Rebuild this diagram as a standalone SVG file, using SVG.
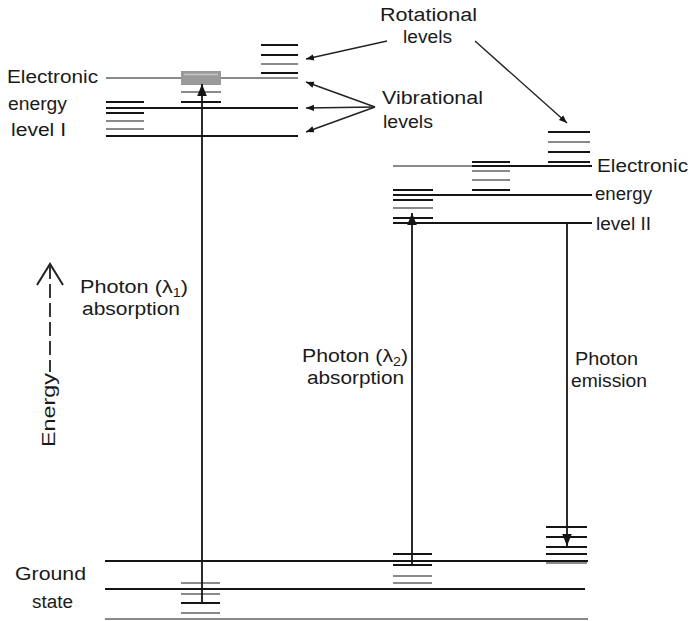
<svg xmlns="http://www.w3.org/2000/svg" width="690" height="621" viewBox="0 0 690 621">
<style>
.lv{stroke:#151515;stroke-width:2;fill:none}
.lg{stroke:#8a8a8a;stroke-width:2;fill:none}
.ar{stroke:#151515;stroke-width:1.8;fill:none}
.pt{stroke:#222;stroke-width:1.4;fill:none}
text{font-family:"Liberation Sans",Arial,sans-serif;font-size:18px;fill:#1a1a1a}
</style>
<defs>
<marker id="ah" viewBox="0 0 10 10" refX="10" refY="5" markerWidth="8" markerHeight="8" markerUnits="userSpaceOnUse" orient="auto">
<path d="M0,1 L10,5 L0,9 Z" fill="#151515"/>
</marker>
<marker id="ahb" viewBox="0 0 10 10" refX="10" refY="5" markerWidth="14" markerHeight="12" markerUnits="userSpaceOnUse" orient="auto">
<path d="M0,1 L10,5 L0,9 Z" fill="#151515"/>
</marker>
</defs>
<rect width="690" height="621" fill="#fff"/>

<g id="level1">
<line class="lg" x1="106" y1="78" x2="298" y2="78" stroke-width="3"/>
<line class="lv" x1="106" y1="108" x2="298" y2="108" stroke-width="2.4"/>
<line class="lv" x1="106" y1="136" x2="298" y2="136" stroke-width="2.4"/>
<line class="lv" x1="106" y1="102" x2="144" y2="102"/>
<line class="lv" x1="106" y1="113" x2="144" y2="113"/>
<line class="lg" x1="106" y1="121" x2="144" y2="121"/>
<line class="lg" x1="106" y1="129" x2="144" y2="129"/>
<rect x="181" y="71" width="40" height="14" fill="#9a9a9a"/>
<line stroke="#c8c8c8" stroke-width="1.5" x1="184" y1="74.5" x2="218" y2="74.5"/>
<line class="lg" x1="181" y1="92" x2="221" y2="92"/>
<line class="lv" x1="181" y1="102" x2="221" y2="102"/>
<line class="lv" x1="261" y1="45" x2="298" y2="45"/>
<line class="lv" x1="261" y1="55" x2="298" y2="55"/>
<line class="lg" x1="261" y1="64" x2="298" y2="64"/>
<line class="lv" x1="261" y1="73" x2="298" y2="73"/>
</g>

<g id="level2">
<line class="lg" x1="393" y1="166" x2="472" y2="166" stroke-width="1.8"/>
<line class="lv" x1="472" y1="166" x2="592" y2="166"/>
<line class="lv" x1="393" y1="195" x2="592" y2="195"/>
<line class="lv" x1="393" y1="223" x2="592" y2="223" stroke-width="2.2"/>
<line class="lv" x1="393" y1="190" x2="433" y2="190"/>
<line class="lv" x1="393" y1="200" x2="433" y2="200"/>
<line class="lg" x1="393" y1="208" x2="433" y2="208"/>
<line class="lv" x1="393" y1="218" x2="433" y2="218"/>
<line class="lv" x1="472" y1="162" x2="510" y2="162"/>
<line class="lg" x1="472" y1="171" x2="510" y2="171" stroke-width="3"/>
<line class="lg" x1="472" y1="180" x2="510" y2="180"/>
<line class="lv" x1="472" y1="190" x2="510" y2="190"/>
<line class="lv" x1="548" y1="132" x2="590" y2="132"/>
<line class="lg" x1="548" y1="142" x2="590" y2="142"/>
<line class="lv" x1="548" y1="152" x2="590" y2="152"/>
<line class="lv" x1="548" y1="162" x2="590" y2="162"/>
</g>

<g id="ground">
<line class="lv" x1="105" y1="561" x2="588" y2="561"/>
<line class="lv" x1="105" y1="589" x2="585" y2="589" stroke-width="2.4"/>
<line class="lg" x1="105" y1="619" x2="588" y2="619" stroke-width="3"/>
<line class="lg" x1="181" y1="583" x2="220" y2="583"/>
<line class="lg" x1="181" y1="594" x2="220" y2="594" stroke-width="3"/>
<line class="lv" x1="181" y1="603" x2="220" y2="603" stroke-width="2.4"/>
<line class="lg" x1="181" y1="613" x2="220" y2="613"/>
<line class="lv" x1="393" y1="554" x2="432" y2="554"/>
<line class="lv" x1="393" y1="565" x2="432" y2="565" stroke-width="2.4"/>
<line class="lg" x1="393" y1="576" x2="432" y2="576"/>
<line class="lg" x1="393" y1="583" x2="432" y2="583"/>
<line class="lv" x1="546" y1="527" x2="587" y2="527"/>
<line class="lv" x1="546" y1="537" x2="587" y2="537"/>
<line class="lv" x1="546" y1="547" x2="587" y2="547"/>
<line class="lv" x1="546" y1="554" x2="587" y2="554"/>
<line class="lg" x1="546" y1="563" x2="587" y2="563"/>
</g>

<g id="connectors">
<line class="ar" x1="202" y1="603" x2="202" y2="84" marker-end="url(#ahb)"/>
<line class="ar" x1="412" y1="565" x2="412" y2="213" marker-end="url(#ahb)"/>
<line class="ar" x1="567" y1="223" x2="567" y2="546" marker-end="url(#ahb)"/>
<line class="pt" x1="387" y1="41" x2="306" y2="59" marker-end="url(#ah)"/>
<line class="pt" x1="475" y1="41" x2="567" y2="123" marker-end="url(#ah)"/>
<line class="pt" x1="375" y1="107" x2="306" y2="82" marker-end="url(#ah)"/>
<line class="pt" x1="375" y1="107" x2="306" y2="108" marker-end="url(#ah)"/>
<line class="pt" x1="375" y1="107" x2="306" y2="132" marker-end="url(#ah)"/>
<line stroke="#222" stroke-width="1.8" stroke-dasharray="14,5" x1="50" y1="265" x2="50" y2="372"/>
<polyline stroke="#222" stroke-width="2" fill="none" points="37,285 50,264 63,285"/>
</g>

<g id="labels">
<text x="7" y="83" textLength="91" lengthAdjust="spacingAndGlyphs">Electronic</text>
<text x="8" y="110" textLength="59" lengthAdjust="spacingAndGlyphs">energy</text>
<text x="11" y="136" textLength="55" lengthAdjust="spacingAndGlyphs">level I</text>
<text x="380" y="21" textLength="97" lengthAdjust="spacingAndGlyphs">Rotational</text>
<text x="403" y="43" textLength="49" lengthAdjust="spacingAndGlyphs">levels</text>
<text x="382" y="104" textLength="101" lengthAdjust="spacingAndGlyphs">Vibrational</text>
<text x="383" y="128" textLength="50" lengthAdjust="spacingAndGlyphs">levels</text>
<text x="597" y="172" textLength="91" lengthAdjust="spacingAndGlyphs">Electronic</text>
<text x="595" y="200" textLength="57" lengthAdjust="spacingAndGlyphs">energy</text>
<text x="596" y="230" textLength="55" lengthAdjust="spacingAndGlyphs">level II</text>
<text x="80" y="293" font-size="19" textLength="108" lengthAdjust="spacingAndGlyphs">Photon (λ<tspan font-size="12" dy="4">1</tspan><tspan dy="-4">)</tspan></text>
<text x="82" y="315" textLength="98" lengthAdjust="spacingAndGlyphs">absorption</text>
<text x="302" y="362" font-size="19" textLength="106" lengthAdjust="spacingAndGlyphs">Photon (λ<tspan font-size="12" dy="4">2</tspan><tspan dy="-4">)</tspan></text>
<text x="307" y="384" textLength="97" lengthAdjust="spacingAndGlyphs">absorption</text>
<text x="575" y="365" textLength="63" lengthAdjust="spacingAndGlyphs">Photon</text>
<text x="571" y="387" textLength="76" lengthAdjust="spacingAndGlyphs">emission</text>
<text x="15" y="580" textLength="71" lengthAdjust="spacingAndGlyphs">Ground</text>
<text x="32" y="608" textLength="41" lengthAdjust="spacingAndGlyphs">state</text>
<text transform="translate(55,447) rotate(-90)" textLength="74" lengthAdjust="spacingAndGlyphs">Energy</text>
</g>
</svg>
